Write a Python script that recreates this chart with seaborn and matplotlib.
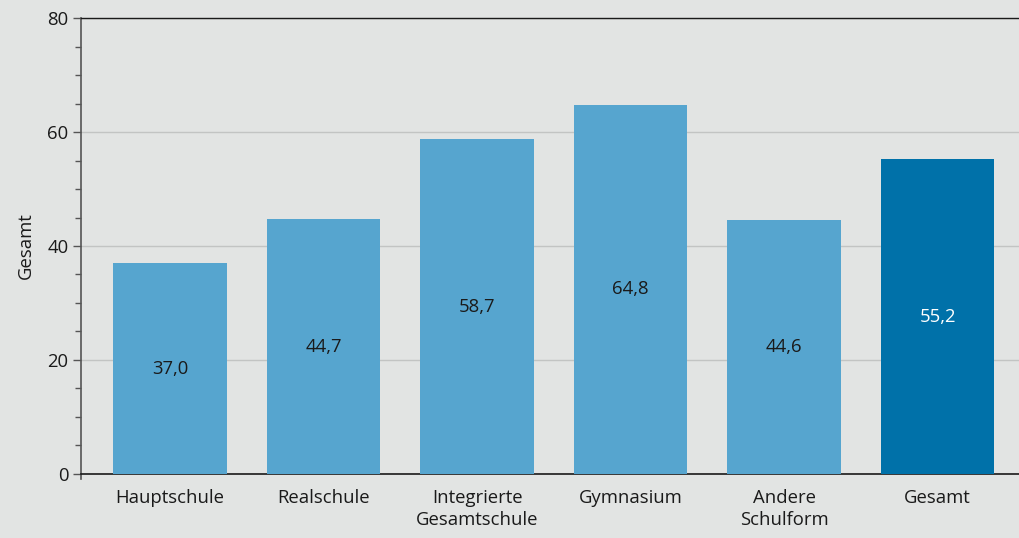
import matplotlib
matplotlib.use('Agg')
import matplotlib.pyplot as plt
import seaborn as sns
import pandas as pd

categories = ['Hauptschule', 'Realschule', 'Integrierte\nGesamtschule', 'Gymnasium', 'Andere\nSchulform', 'Gesamt']
values = [37.0, 44.7, 58.7, 64.8, 44.6, 55.2]
labels = ['37,0', '44,7', '58,7', '64,8', '44,6', '55,2']
bar_colors = ['#56a5cf'] * 5 + ['#0071a9']
text_colors = ['#1a1a1a'] * 5 + ['white']

sns.set_style('white')
plt.rcParams['font.family'] = ['Open Sans', 'DejaVu Sans']
bg = '#e2e4e3'
fs = 13.3

df = pd.DataFrame({'Schulform': categories, 'Gesamt': values})

fig = plt.figure(figsize=(10.19, 5.38), dpi=100, facecolor=bg)
ax = fig.add_axes([0.0795, 0.119, 0.9205, 0.8475])
ax.set_facecolor(bg)

sns.barplot(data=df, x='Schulform', y='Gesamt', hue='Schulform', palette=bar_colors,
            legend=False, width=0.74, saturation=1, ax=ax, zorder=3,
            edgecolor='none', linewidth=0)

for i, (v, lab) in enumerate(zip(values, labels)):
    ax.text(i, v / 2, lab, ha='center', va='center', fontsize=fs, color=text_colors[i], zorder=4)

ax.set_ylim(0, 80)
ax.set_xlim(-0.58, 5.53)
ax.set_yticks([0, 20, 40, 60, 80])
ax.set_yticks(range(0, 81, 5), minor=True)
ax.yaxis.grid(True, color='#c2c4c3', linewidth=1, zorder=0)
ax.set_axisbelow(True)

ax.tick_params(axis='y', which='major', left=True, length=6, width=1, color='#555555', labelsize=fs, labelcolor='#1a1a1a', pad=3)
ax.tick_params(axis='y', which='minor', left=True, length=4, width=1, color='#555555')
ax.tick_params(axis='x', bottom=False, labelsize=fs, labelcolor='#1a1a1a', pad=7)
for t in ax.get_xticklabels():
    t.set_linespacing(1.35)

ax.set_xlabel('')
ax.set_ylabel('Gesamt', fontsize=fs, color='#1a1a1a', labelpad=9)

ax.spines['top'].set_color('#1a1a1a')
ax.spines['top'].set_linewidth(1.0)
ax.spines['bottom'].set_color('#1a1a1a')
ax.spines['bottom'].set_linewidth(1.2)
ax.spines['right'].set_visible(False)
ax.spines['left'].set_color('#555555')
ax.spines['left'].set_linewidth(1.2)
ax.spines['left'].set_bounds(-0.9, 80)

fig.savefig('out.png', dpi=100, facecolor=bg)
